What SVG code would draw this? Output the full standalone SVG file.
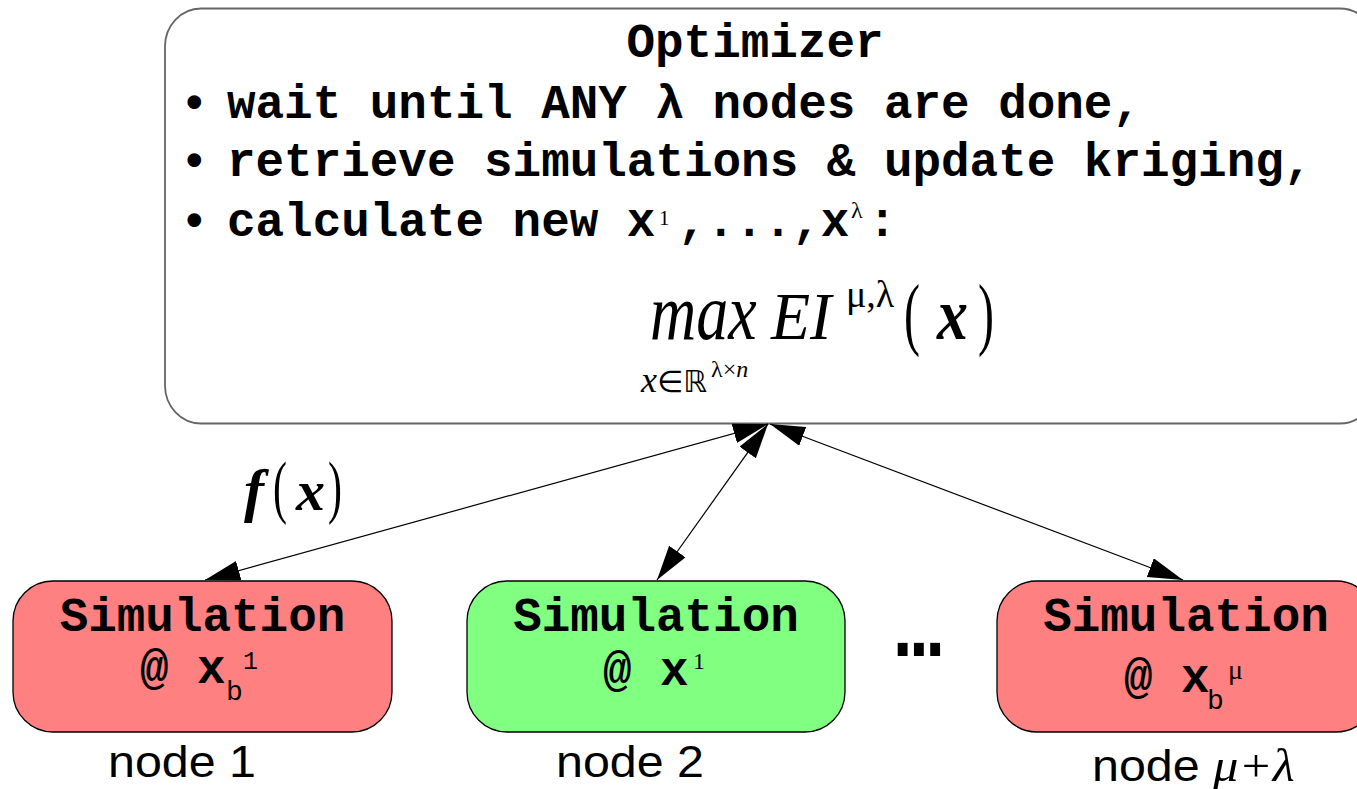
<svg xmlns="http://www.w3.org/2000/svg" width="1357" height="789" viewBox="0 0 1357 789">
  <style>
    .mono { font-family: "Liberation Mono", "Courier New", monospace; font-weight: bold; font-size: 47.6px; fill: #000; }
    .thin { font-family: "Liberation Mono", "Courier New", monospace; font-weight: normal; fill: #000; }
    .sans { font-family: "Liberation Sans", Arial, sans-serif; font-size: 44px; fill: #000; }
    .serif { font-family: "Liberation Serif", "Times New Roman", serif; fill: #000; }
    .it { font-style: italic; }
    .bi { font-style: italic; font-weight: bold; }
    .panel { fill: #fff; stroke: #666; stroke-width: 1.8; }
    .sim { stroke: #000; stroke-width: 1.3; }
    .fail { fill: #ff8080; }
    .ok { fill: #80ff80; }
    .link { fill: none; stroke: #000; stroke-width: 1.2; marker-start: url(#head); marker-end: url(#head); }
  </style>
  <defs>
    <marker id="head" markerUnits="userSpaceOnUse" markerWidth="36" markerHeight="21" refX="35" refY="10" orient="auto-start-reverse">
      <path d="M0,0 L35,10 L0,20 z" fill="#000"/>
    </marker>
  </defs>

  <rect width="1357" height="789" fill="#fff"/>

  <!-- optimizer panel -->
  <g id="optimizer">
    <rect class="panel" x="165" y="8.5" width="1211" height="415" rx="36" ry="38"/>
    <text class="mono" x="755" y="57" text-anchor="middle">Optimizer</text>
    <text class="mono" x="180" y="118">•</text>
    <text class="mono" x="227" y="118">wait until ANY λ nodes are done,</text>
    <text class="mono" x="180" y="176">•</text>
    <text class="mono" x="227" y="176">retrieve simulations &amp; update kriging,</text>
    <text class="mono" x="180" y="236">•</text>
    <text class="mono" x="227" y="236">calculate new x</text>
    <text class="serif" x="659" y="225" font-size="21">1</text>
    <text class="mono" x="678" y="236">,...,x</text>
    <text class="serif" x="851" y="218" font-size="24">λ</text>
    <text class="mono" x="868" y="236">:</text>
    <!-- objective: max over x of EI^(mu,lambda)(x) -->
    <text class="serif it" font-size="64" transform="translate(650,339) scale(1,1.25)">max</text>
    <text class="serif it" font-size="64" transform="translate(771,339) scale(1,1.05)">EI</text>
    <text class="serif" font-size="38" x="846" y="307">μ,λ</text>
    <text class="serif" font-size="80" transform="translate(904,340) scale(0.6,1)">(</text>
    <text class="serif bi" font-size="62" transform="translate(937,339) scale(1,1.2)">x</text>
    <text class="serif" font-size="80" transform="translate(978,340) scale(0.6,1)">)</text>
    <text class="serif it" font-size="36" x="641" y="392">x</text>
    <text font-family="DejaVu Sans, sans-serif" font-size="30" x="657" y="392">∈ℝ</text>
    <text class="serif" font-size="24" x="711" y="377">λ×<tspan class="it">n</tspan></text>
  </g>

  <!-- simulation nodes -->
  <g id="node1">
    <rect class="sim fail" x="13" y="581" width="379" height="151" rx="40"/>
    <text class="mono" x="202.5" y="631" text-anchor="middle">Simulation</text>
    <text class="mono" x="140" y="683">@ x</text>
    <text class="thin" x="226" y="700" font-size="28">b</text>
    <text class="thin" x="243" y="669" font-size="25">1</text>
    <text class="sans" transform="translate(108,777) scale(1.1,1)">node 1</text>
  </g>

  <g id="node2">
    <rect class="sim ok" x="467" y="581" width="378" height="151" rx="40"/>
    <text class="mono" x="656" y="631" text-anchor="middle">Simulation</text>
    <text class="mono" x="603" y="685">@ x</text>
    <text class="serif" x="693" y="669" font-size="24">1</text>
    <text class="sans" transform="translate(556,777) scale(1.1,1)">node 2</text>
  </g>

  <g id="node3">
    <rect class="sim fail" x="997" y="581" width="379" height="151" rx="40"/>
    <text class="mono" x="1186" y="631" text-anchor="middle">Simulation</text>
    <text class="mono" x="1124" y="692">@ x</text>
    <text class="thin" x="1207" y="709" font-size="28">b</text>
    <text class="serif" x="1228" y="679" font-size="28">μ</text>
    <text class="sans" transform="translate(1092,781) scale(1.1,1)">node <tspan class="serif it" font-size="46">μ+λ</tspan></text>
  </g>

  <g id="ellipsis">
    <text font-family="DejaVu Sans, sans-serif" font-weight="bold" font-size="56" letter-spacing="-5" transform="translate(892,656) scale(1,1.25)">...</text>
  </g>

  <!-- connectors -->
  <g id="connectors">
    <line class="link" x1="205" y1="580" x2="768" y2="424"/>
    <line class="link" x1="657" y1="580" x2="768" y2="424"/>
    <line class="link" x1="1183" y1="580" x2="770" y2="424"/>
  </g>

  <!-- edge label -->
  <g id="label-fx">
    <text class="serif bi" font-size="60" x="244" y="510">f</text>
    <text class="serif" font-size="70" transform="translate(273,510) scale(0.6,1)">(</text>
    <text class="serif bi" font-size="58" x="296" y="510">x</text>
    <text class="serif" font-size="70" transform="translate(328,510) scale(0.6,1)">)</text>
  </g>
</svg>
